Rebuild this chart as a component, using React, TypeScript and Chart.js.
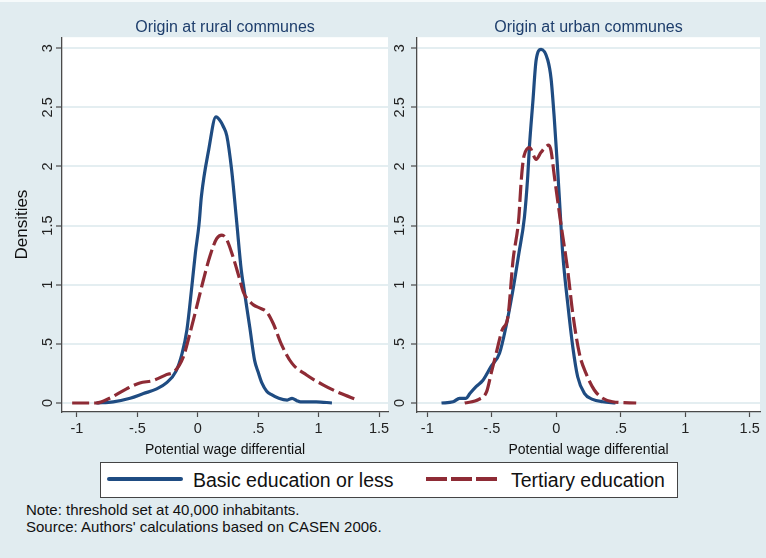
import React, { useEffect, useRef } from 'react';
import { Chart, registerables } from 'chart.js';

Chart.register(...registerables);

// ---- text ----
const panelTitles = ['Origin at rural communes', 'Origin at urban communes'];
const seriesLabels = ['Basic education or less', 'Tertiary education'];
const xAxisTitle = 'Potential wage differential';
const yAxisTitle = 'Densities';
const noteLines = [
  'Note: threshold set at 40,000 inhabitants.',
  "Source: Authors' calculations based on CASEN 2006.",
];

// ---- ticks ----
const xTickValues = [-1, -0.5, 0, 0.5, 1, 1.5];
const yTickValues = [0, 0.5, 1, 1.5, 2, 2.5, 3];

// ---- rural panel ----
const ruralBasicX = [-0.84, -0.7, -0.56, -0.45, -0.34, -0.26, -0.18, -0.13, -0.09, -0.05, -0.02, 0.01, 0.03, 0.09, 0.15, 0.19, 0.21, 0.24, 0.28, 0.32, 0.36, 0.38, 0.43, 0.47, 0.5, 0.53, 0.57, 0.61, 0.67, 0.74, 0.78, 0.82, 0.85, 0.98, 1.11];
const ruralBasicY = [0.0, 0.01, 0.04, 0.08, 0.12, 0.17, 0.27, 0.42, 0.62, 0.98, 1.27, 1.51, 1.75, 2.14, 2.42, 2.38, 2.34, 2.26, 1.97, 1.55, 1.12, 0.98, 0.64, 0.36, 0.26, 0.17, 0.1, 0.07, 0.04, 0.025, 0.04, 0.02, 0.01, 0.01, 0.0];
const ruralTertX = [-1.04, -0.84, -0.73, -0.59, -0.48, -0.37, -0.26, -0.19, -0.12, -0.065, -0.01, 0.046, 0.1, 0.156, 0.2, 0.24, 0.29, 0.34, 0.38, 0.42, 0.46, 0.52, 0.57, 0.625, 0.69, 0.78, 0.9, 1.04, 1.18, 1.31];
const ruralTertY = [0.0, 0.0, 0.04, 0.12, 0.17, 0.19, 0.24, 0.27, 0.39, 0.59, 0.81, 1.04, 1.24, 1.39, 1.42, 1.38, 1.24, 1.07, 0.93, 0.87, 0.83, 0.8, 0.77, 0.67, 0.5, 0.335, 0.237, 0.152, 0.082, 0.031];

// ---- urban panel ----
const urbanBasicX = [-0.89, -0.8, -0.75, -0.7, -0.67, -0.62, -0.57, -0.505, -0.44, -0.39, -0.34, -0.29, -0.247, -0.221, -0.208, -0.182, -0.156, -0.118, -0.066, -0.04, -0.015, 0.011, 0.029, 0.05, 0.089, 0.128, 0.166, 0.218, 0.282, 0.36, 0.46];
const urbanBasicY = [0.0, 0.01, 0.04, 0.04, 0.08, 0.14, 0.19, 0.31, 0.42, 0.645, 0.93, 1.265, 1.57, 1.92, 2.17, 2.54, 2.9, 2.99, 2.9, 2.74, 2.4, 1.97, 1.64, 1.265, 0.84, 0.476, 0.222, 0.082, 0.031, 0.011, 0.0];
const urbanTertX = [-0.71, -0.6, -0.54, -0.505, -0.466, -0.42, -0.375, -0.335, -0.29, -0.275, -0.262, -0.25, -0.208, -0.156, -0.118, -0.058, -0.04, -0.015, 0.03, 0.089, 0.128, 0.179, 0.231, 0.295, 0.36, 0.437, 0.62];
const urbanTertY = [0.0, 0.03, 0.096, 0.25, 0.42, 0.617, 0.73, 1.21, 1.57, 1.83, 2.0, 2.09, 2.16, 2.06, 2.12, 2.18, 2.13, 1.92, 1.56, 1.12, 0.758, 0.42, 0.25, 0.11, 0.04, 0.011, 0.0];

// ---- styles ----
const FONT = '"Liberation Sans", Arial, Helvetica, sans-serif';
const NAVY = '#1f4c82';
const MAROON = '#8e2b35';
const BG = '#e1ecf0';
const GRID = '#e4eef1';
const AXIS = '#4a4a4a';

function fmt(v: number): string {
  if (v === 0) return '0';
  return String(v).replace(/^0\./, '.').replace(/^-0\./, '-.');
}

const whitePlot = {
  id: 'whitePlot',
  beforeDraw(chart: any) {
    const { ctx, chartArea: a } = chart;
    ctx.save();
    ctx.fillStyle = '#ffffff';
    ctx.fillRect(a.left, a.top, a.right - a.left, a.bottom - a.top);
    ctx.restore();
  },
};

type PanelProps = {
  title: string;
  bx: number[]; by: number[]; tx: number[]; ty: number[];
  xMin: number; xMax: number;
  yAxisWidth: number; showYTitle: boolean; yTickPad: number; padRight: number;
  left: number; width: number;
};

function Panel(p: PanelProps) {
  const ref = useRef<HTMLCanvasElement>(null);
  useEffect(() => {
    if (!ref.current) return;
    const chart = new Chart(ref.current, {
      type: 'line',
      data: {
        datasets: [
          {
            label: seriesLabels[1],
            data: p.tx.map((x, i) => ({ x, y: p.ty[i] })),
            borderColor: MAROON,
            borderWidth: 3.2,
            borderDash: [17, 5],
            pointRadius: 0,
            fill: false,
            cubicInterpolationMode: 'monotone',
            order: 0,
          },
          {
            label: seriesLabels[0],
            data: p.bx.map((x, i) => ({ x, y: p.by[i] })),
            borderColor: NAVY,
            borderWidth: 3.2,
            pointRadius: 0,
            fill: false,
            cubicInterpolationMode: 'monotone',
            order: 1,
          },
        ],
      },
      options: {
        responsive: false,
        maintainAspectRatio: false,
        animation: false,
        events: [],
        layout: { padding: { left: 0, right: p.padRight, top: 0, bottom: 0 } },
        plugins: {
          legend: { display: false },
          tooltip: { enabled: false },
          title: {
            display: true,
            text: p.title,
            fullSize: false,
            color: '#1e3e6c',
            font: { family: FONT, size: 16, weight: 'normal' },
            padding: { top: 18, bottom: 0 },
          },
        },
        scales: {
          x: {
            type: 'linear',
            min: p.xMin,
            max: p.xMax,
            afterBuildTicks: (s: any) => { s.ticks = xTickValues.map((v) => ({ value: v })); },
            afterFit: (s: any) => { s.height = 50; s.paddingLeft = 0; s.paddingRight = 0; },
            grid: { drawOnChartArea: false, drawTicks: true, tickLength: 5, tickColor: AXIS, tickWidth: 1.2 },
            border: { color: AXIS, width: 1.3 },
            ticks: {
              callback: (v: any) => fmt(Number(v)),
              color: '#222',
              font: { family: FONT, size: 14.5 },
              padding: 3,
              maxRotation: 0,
              autoSkip: false,
            },
            title: {
              display: true,
              text: xAxisTitle,
              color: '#111',
              font: { family: FONT, size: 14 },
              padding: { top: 0, bottom: 3 },
            },
          },
          y: {
            type: 'linear',
            min: -0.076,
            max: 3.093,
            afterBuildTicks: (s: any) => { s.ticks = yTickValues.map((v) => ({ value: v })); },
            afterFit: (s: any) => { s.width = p.yAxisWidth; s.paddingTop = 0; s.paddingBottom = 0; },
            grid: { color: GRID, lineWidth: 2, drawTicks: true, tickLength: 6, tickColor: AXIS, tickWidth: 1.2 },
            border: { color: AXIS, width: 1.3 },
            ticks: {
              callback: (v: any) => fmt(Number(v)),
              color: '#222',
              font: { family: FONT, size: 14.5 },
              minRotation: 90,
              maxRotation: 90,
              crossAlign: 'center',
              padding: p.yTickPad,
              autoSkip: false,
            },
            title: {
              display: p.showYTitle,
              text: yAxisTitle,
              color: '#111',
              font: { family: FONT, size: 17 },
              padding: { top: 12, bottom: 0 },
            },
          },
        },
      } as any,
      plugins: [whitePlot],
    });
    return () => chart.destroy();
  }, []);
  return (
    <canvas
      ref={ref}
      width={p.width}
      height={462}
      style={{ position: 'absolute', left: p.left, top: 0, width: p.width, height: 462 }}
    />
  );
}

export default function App() {
  return (
    <div
      style={{
        position: 'fixed', left: 0, top: 0, width: 766, height: 558,
        background: BG, overflow: 'hidden', fontFamily: FONT,
      }}
    >
      <div style={{ position: 'absolute', left: 0, top: 0, width: 766, height: 2, background: '#f6fafb' }} />
      <Panel
        title={panelTitles[0]}
        bx={ruralBasicX} by={ruralBasicY} tx={ruralTertX} ty={ruralTertY}
        xMin={-1.124} xMax={1.574}
        yAxisWidth={62} showYTitle={true} yTickPad={-2.5} padRight={4}
        left={0} width={392}
      />
      <Panel
        title={panelTitles[1]}
        bx={urbanBasicX} by={urbanBasicY} tx={urbanTertX} ty={urbanTertY}
        xMin={-1.08} xMax={1.58}
        yAxisWidth={25} showYTitle={false} yTickPad={0.8} padRight={6}
        left={392} width={374}
      />
      <div
        style={{
          position: 'absolute', left: 100, top: 462, width: 578, height: 36,
          boxSizing: 'border-box', background: '#fff', border: '1px solid #444',
        }}
      >
        <svg width={576} height={34} style={{ position: 'absolute', left: 0, top: 0 }}>
          <line x1={8} x2={80} y1={16} y2={16} stroke={NAVY} strokeWidth={4} strokeLinecap="round" />
          <line x1={325} x2={399} y1={16} y2={16} stroke={MAROON} strokeWidth={4} strokeDasharray="21 4" />
        </svg>
        <span style={{ position: 'absolute', left: 92, top: 0, lineHeight: '34px', fontSize: 19.5, color: '#111', whiteSpace: 'nowrap' }}>
          {seriesLabels[0]}
        </span>
        <span style={{ position: 'absolute', left: 410, top: 0, lineHeight: '34px', fontSize: 19.5, color: '#111', whiteSpace: 'nowrap' }}>
          {seriesLabels[1]}
        </span>
      </div>
      <div style={{ position: 'absolute', left: 26, top: 501, fontSize: 15, lineHeight: '17px', color: '#111', whiteSpace: 'nowrap' }}>
        {noteLines.map((t, i) => (<div key={i}>{t}</div>))}
      </div>
    </div>
  );
}
